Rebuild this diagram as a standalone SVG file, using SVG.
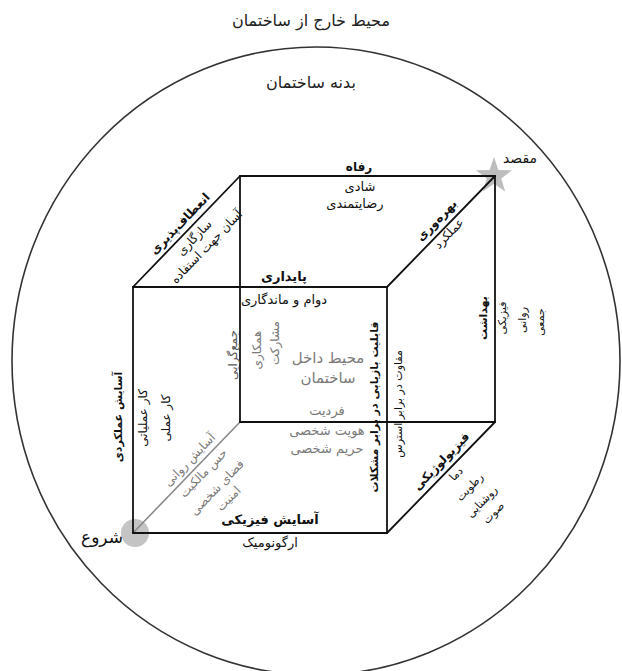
<svg xmlns="http://www.w3.org/2000/svg" width="622" height="671" viewBox="0 0 622 671">
<style>
text{font-family:"DejaVu Sans","Noto Sans",sans-serif;text-anchor:middle;fill:#111;font-size:12px}
.b{font-weight:bold}
.g{fill:#7a7a7a}
.g2{fill:#5a5a5a}
.big{font-size:14px}
.title{font-size:16px;fill:#222}
.edge{stroke:#111;stroke-width:1.8;fill:none;stroke-linecap:round}
.hid{stroke:#8a8a8a;stroke-width:1.6;fill:none}
</style>
<rect width="622" height="671" fill="#fff"/>
<g id="outer">
<ellipse cx="316" cy="361" rx="304" ry="314" fill="none" stroke="#333" stroke-width="1.6"/>
<text class="title" x="311" y="26">محیط خارج از ساختمان</text>
<text class="title" x="311" y="88">بدنه ساختمان</text>
</g>
<g id="start-mark">
<circle cx="135" cy="533" r="14" fill="#c4c4c4"/>
</g>
<g id="goal-mark">
<polygon points="494,157 498.4,170 512.1,170.2 501.2,178.5 505.2,191.6 494,183.8 482.8,191.6 486.8,178.5 475.9,170.2 489.6,170" fill="#bdbdbd"/>
</g>
<g id="connectors">
<line class="hid" x1="133" y1="533" x2="240" y2="422"/>
<line class="edge" x1="240" y1="176" x2="495" y2="176"/>
<line class="edge" x1="240" y1="176" x2="240" y2="422"/>
<line class="edge" x1="240" y1="422" x2="495" y2="422"/>
<line class="edge" x1="495" y1="176" x2="495" y2="422"/>
<line class="edge" x1="133" y1="287" x2="387" y2="287"/>
<line class="edge" x1="133" y1="287" x2="133" y2="533"/>
<line class="edge" x1="133" y1="533" x2="387" y2="533"/>
<line class="edge" x1="387" y1="287" x2="387" y2="533"/>
<line class="edge" x1="133" y1="287" x2="240" y2="176"/>
<line class="edge" x1="387" y1="287" x2="495" y2="176"/>
<line class="edge" x1="387" y1="533" x2="495" y2="422"/>
</g>
<g id="start">
<text x="102" y="543" style="font-size:17px">شروع</text>
</g>
<g id="goal">
<text class="big" x="520" y="163">مقصد</text>
</g>
<g id="welfare">
<text class="b" x="359" y="171">رفاه</text>
<text x="360" y="191" style="font-size:13px">شادی</text>
<text x="355" y="208" style="font-size:13px">رضایتمندی</text>
</g>
<g id="sustainability">
<text class="b" x="284" y="281" style="font-size:13px">پایداری</text>
<text x="284" y="304" style="font-size:13px">دوام و ماندگاری</text>
</g>
<g id="flexibility" transform="translate(186.5,231.5) rotate(-46)">
<text class="b" x="1" y="-6">انعطاف‌پذیری</text>
<text x="1" y="14">سازگاری</text>
<text x="3" y="29">آسان جهت استفاده</text>
</g>
<g id="productivity" transform="translate(441,231.5) rotate(-46)">
<text class="b" x="5" y="-7">بهره‌وری</text>
<text x="4" y="11">عملکرد</text>
</g>
<g id="physiological" transform="translate(441,477.5) rotate(-46)">
<text class="b" x="12" y="-7">فیزیولوژیکی</text>
<text x="13" y="12" style="font-size:11px">دما</text>
<text x="13" y="31" style="font-size:11px">رطوبت</text>
<text x="11" y="50" style="font-size:11px">روشنایی</text>
<text x="11" y="66" style="font-size:11px">صوت</text>
</g>
<g id="psychological" transform="translate(186.5,477.5) rotate(-46)">
<text class="g" x="15" y="-6">آسایش روانی</text>
<text class="g" x="15" y="13">حس مالکیت</text>
<text class="g" x="14" y="33">فضای شخصی</text>
<text class="g" x="14" y="49">امنیت</text>
</g>
<g id="collectivism">
<text class="g2" transform="translate(237,355) rotate(-90)">جمع‌گرایی</text>
<text class="g" transform="translate(261,350) rotate(-90)">همکاری</text>
<text class="g" transform="translate(279,343) rotate(-90)">مشارکت</text>
</g>
<g id="inner">
<text class="g" x="328" y="363" style="font-size:15px">محیط داخل</text>
<text class="g" x="328" y="383" style="font-size:15px">ساختمان</text>
</g>
<g id="individuality">
<text class="g" x="327" y="415" style="font-size:13px">فردیت</text>
<text class="g" x="327" y="435" style="font-size:13px">هویت شخصی</text>
<text class="g" x="327" y="453" style="font-size:13px">حریم شخصی</text>
</g>
<g id="resilience">
<text class="b" transform="translate(378,407) rotate(-90)" style="font-size:11px">قابلیت بازیابی در برابر مشکلات</text>
<text transform="translate(402,404) rotate(-90)" style="font-size:11px">مقاوت در برابر استرس</text>
</g>
<g id="functional">
<text class="b" transform="translate(122,417) rotate(-90)" style="font-size:11px">آسایش عملکردی</text>
<text transform="translate(147,418) rotate(-90)">کار عملیاتی</text>
<text transform="translate(170,418) rotate(-90)">کار عملی</text>
</g>
<g id="health">
<text class="b" transform="translate(487,318) rotate(-90)" style="font-size:11px">بهداشت</text>
<text transform="translate(506,318) rotate(-90)" style="font-size:11px">فیزیکی</text>
<text transform="translate(526,320) rotate(-90)" style="font-size:11px">روانی</text>
<text transform="translate(544,322) rotate(-90)" style="font-size:11px">جمعی</text>
</g>
<g id="physical">
<text class="b" x="270" y="524" style="font-size:13px">آسایش فیزیکی</text>
<text x="270" y="547" style="font-size:13px">ارگونومیک</text>
</g>
</svg>
